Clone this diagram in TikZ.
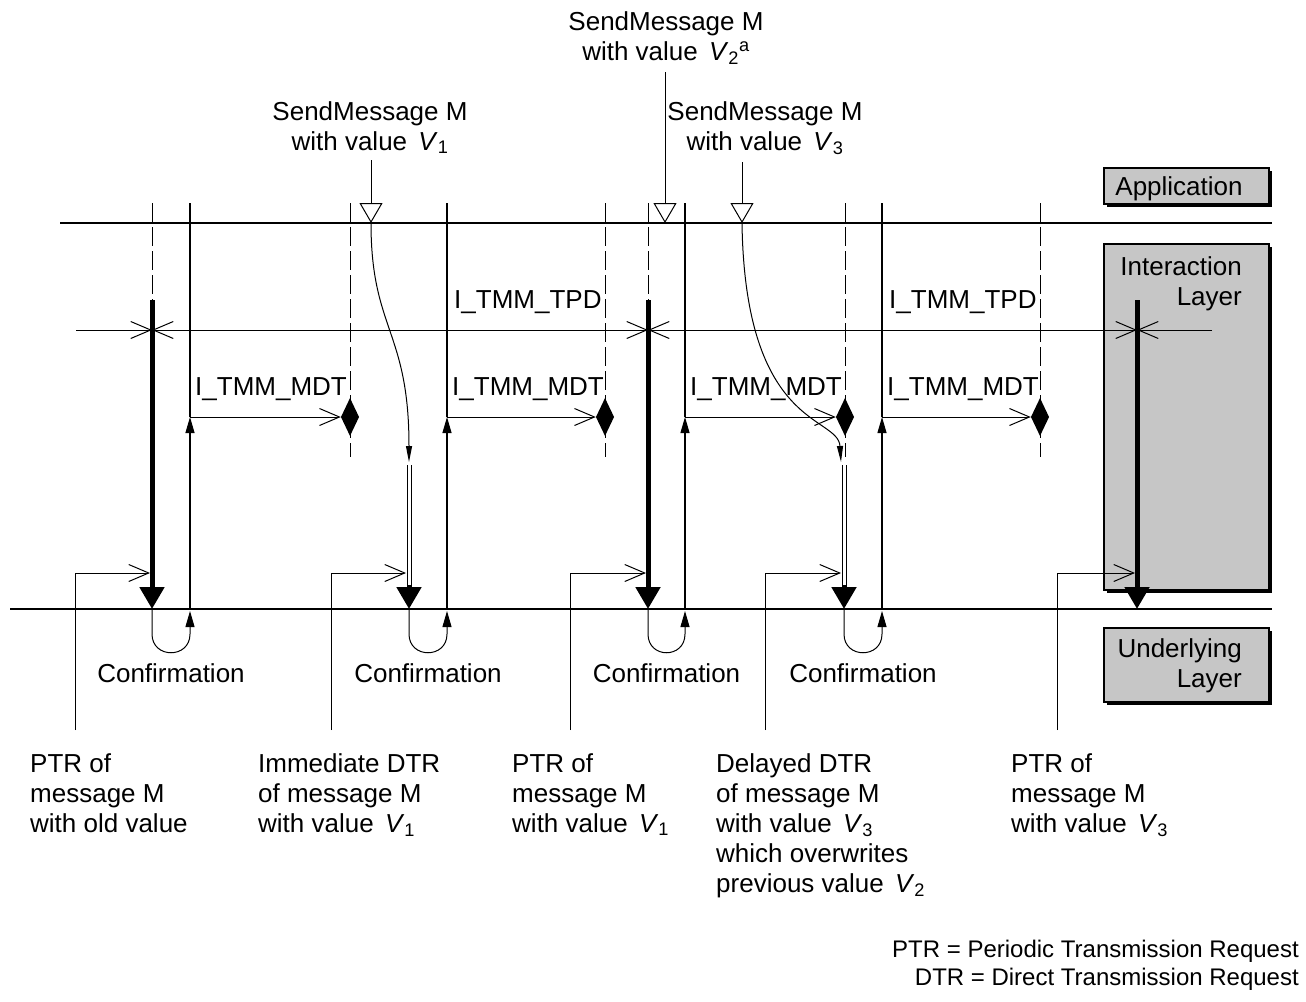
\documentclass[tikz,border=0pt]{standalone}
\usepackage{fontspec}
\setmainfont{Liberation Sans}
\usetikzlibrary{arrows.meta,shapes.geometric}
\newcommand\valV[1]{\textit{V}\textsubscript{#1}}

\begin{document}
\begin{tikzpicture}[x=1pt,y=-1pt,
  every node/.style={font=\fontsize{26}{30}\selectfont,inner sep=0pt},
  bus/.style={line width=2.8pt},
  guide/.style={line width=1pt,dash pattern=on 19pt off 5pt},
  ptr/.style={line width=5pt,-{Triangle[width=24pt,length=22pt]}},
  trig/.style={line width=1.1pt,-{Triangle[width=9pt,length=16pt]}},
  barb/.style={line width=1pt,-{Straight Barb[length=20pt,width=17pt]}},
  period/.style={line width=1pt,{Straight Barb[length=20pt,width=17pt]}-{Straight Barb[length=20pt,width=17pt]}},
  send/.style={line width=1pt,-{Triangle[open,fill=white,width=23pt,length=20pt]}},
  swerve/.style={line width=1pt,-{Triangle[width=6pt,length=16pt]}},
  dtr/.style={line width=1pt,double,double distance=3pt},
  layerbox/.style={draw,line width=1.5pt,fill=gray!45},
  mdtend/.style={diamond,draw,fill,line width=1.5pt,minimum width=17pt,minimum height=35pt}]
\useasboundingbox (0,0) rectangle (1306,1001);

\fill (1107,171) rectangle (1272,207);
\draw[layerbox] (1104,168) rectangle (1269,204);
\fill (1107,247) rectangle (1272,593);
\draw[layerbox] (1104,244) rectangle (1269,590);
\fill (1107,631) rectangle (1272,705);
\draw[layerbox] (1104,628) rectangle (1269,702);
\node[anchor=base] (app) at (1179,195) {Application};
\node[anchor=north east,align=right] (ia) at (1242,256) {Interaction\\Layer};
\node[anchor=north east,align=right] (ul) at (1242,638) {Underlying\\Layer};

\coordinate (apl) at (60,223); \coordinate (apr) at (1272,223);
\coordinate (ull) at (10,609); \coordinate (ulr) at (1272,609);
\draw[bus] (apl) -- (apr);
\draw[bus] (ull) -- (ulr);

\foreach \x in {152,648} \draw[guide] (\x,203) -- (\x,300);
\foreach \n/\x in {1/152,2/648,3/1137} {
  \coordinate (p\n) at (\x,300);
  \coordinate (q\n) at (\x,609);
  \coordinate (m\n) at (\x,330);
  \draw[ptr] (p\n) -- (q\n);
}
\coordinate (tl) at (76,330); \coordinate (tr) at (1212,330);
\draw[barb] (tl) -- (m1);
\draw[period] (m1) -- (m2);
\draw[period] (m2) -- (m3);
\draw[barb] (tr) -- (m3);
\node[anchor=base west] (tpd1) at (454,308) {I\_TMM\_TPD};
\node[anchor=base west] (tpd2) at (889,308) {I\_TMM\_TPD};

\foreach \n/\x/\d in {1/190/350,2/447/605,3/685/845,4/882/1040} {
  \draw[guide] (\d,203) -- (\d,457);
  \coordinate (t\n) at (\x,417);
  \node[mdtend] (d\n) at (\d,417) {};
  \draw[trig] (\x,609) -- (t\n);
  \draw[line width=2pt] (t\n) -- (\x,203);
  \draw[barb] (t\n) -- (d\n.west);
  \node[anchor=base west] (mdt\n) at ({\x+5},395) {I\_TMM\_MDT};
}

\foreach \a/\b in {152/190,409/447,648/685,844/882} {
  \draw[line width=1pt,-{Triangle[width=9pt,length=16pt]}] (\a,609) -- (\a,634)
    .. controls (\a,659) and (\b,659) .. (\b,634) -- (\b,611);
  \node[anchor=base] at ({(\a+\b)/2},682) {Confirmation};
}

\node[align=center,anchor=north] (sm1) at (370,101) {SendMessage M\\with value \hspace{4pt}\valV{1}};
\node[align=center,anchor=north] (sm2) at (666,11) {SendMessage M\\with value \hspace{4pt}\valV{2}\textsuperscript{a}};
\node[align=center,anchor=north] (sm3) at (765,101) {SendMessage M\\with value \hspace{4pt}\valV{3}};
\coordinate (s1a) at (371,160); \coordinate (s1) at (371,223);
\coordinate (s2a) at (665,72);  \coordinate (s2) at (665,223);
\coordinate (s3a) at (742,162); \coordinate (s3) at (742,223);
\draw[send] (s1a) -- (s1);
\draw[send] (s2a) -- (s2);
\draw[send] (s3a) -- (s3);
\coordinate (e1) at (409,462); \coordinate (e3) at (841,462);
\draw[swerve] (s1) .. controls (371,330) and (409,330) .. (e1);
\draw[swerve] (s3) .. controls (745,430) and (838,415) .. (e3);
\draw[dtr] (409,465) -- (409,592);
\draw[ptr] (409,585) -- (409,609);
\draw[dtr] (844,465) -- (844,592);
\draw[ptr] (844,585) -- (844,609);

\foreach \x/\y in {75/150,331/406,570/646,765/841,1057/1135}
  \draw[barb] (\x,730) |- (\y,573);

\node[anchor=north west,align=left] (l1) at (30,753) {PTR of\\message M\\with old value};
\node[anchor=north west,align=left] (l2) at (258,753) {Immediate DTR\\of message M\\with value \hspace{4pt}\valV{1}};
\node[anchor=north west,align=left] (l3) at (512,753) {PTR of\\message M\\with value \hspace{4pt}\valV{1}};
\node[anchor=north west,align=left] (l4) at (716,753) {Delayed DTR\\of message M\\with value \hspace{4pt}\valV{3}\\which overwrites\\previous value \hspace{4pt}\valV{2}};
\node[anchor=north west,align=left] (l5) at (1011,753) {PTR of\\message M\\with value \hspace{4pt}\valV{3}};

\node[anchor=base east,font=\fontsize{24}{28}\selectfont] (k1) at (1299,957) {PTR = Periodic Transmission Request};
\node[anchor=base east,font=\fontsize{24}{28}\selectfont] (k2) at (1299,985) {DTR = Direct Transmission Request};
\end{tikzpicture}
\end{document}
